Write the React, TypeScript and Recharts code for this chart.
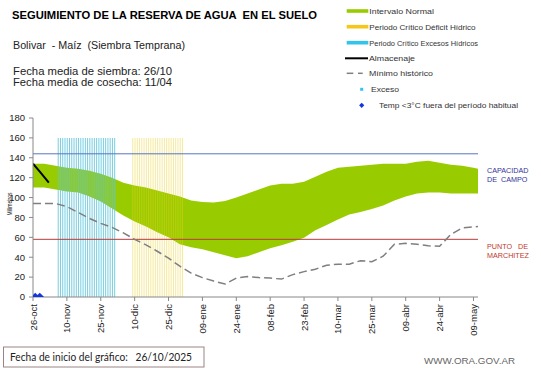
import React from 'react';
import { ComposedChart, Area, Bar, Line, Scatter, XAxis, YAxis, ReferenceLine } from 'recharts';

const FONT = '"Liberation Sans", Arial, sans-serif';

const tickDays = [0, 15, 30, 45, 60, 75, 90, 105, 120, 135, 150, 165, 180, 195];
const tickLabels = ['26-oct', '10-nov', '25-nov', '10-dic', '25-dic', '09-ene', '24-ene', '08-feb', '23-feb', '10-mar', '25-mar', '09-abr', '24-abr', '09-may'];
const yTicks = [0, 20, 40, 60, 80, 100, 120, 140, 160, 180];

const sampleDays = [0, 5, 10, 15, 20, 25, 30, 35, 40, 45, 50, 55, 60, 65, 70, 75, 80, 85, 90, 95, 100, 105, 110, 115, 120, 125, 130, 135, 140, 145, 150, 155, 160, 165, 170, 175, 180, 185, 190, 195, 197];
const normalHigh = [134, 134, 132, 130, 129, 127, 124, 120, 115, 112, 110, 107, 104, 101, 97, 95.5, 95, 96.5, 100, 104, 108, 112, 114, 114, 116, 121, 126, 130, 131, 132, 133, 134, 134, 134, 136, 137, 135, 133, 132, 130, 129];
const normalLow = [110, 110, 108, 106, 105, 101, 96, 89, 82, 76, 71, 65, 60, 53, 50, 48, 45, 42, 39, 41, 45, 49, 52, 55.5, 59.5, 67, 72.5, 78, 83, 85.5, 88.5, 92, 97, 101, 104, 105, 105, 104, 104, 104, 104];
const minHistorico = [94, 94, 94, 91, 85, 79, 74, 70, 64.5, 58, 52.5, 46, 39, 31, 24, 19.5, 16, 13, 19, 20.5, 19.5, 19, 18, 22.5, 25.5, 28, 32, 33, 33, 36.5, 35.5, 41, 53, 54, 53, 51.5, 51, 63, 69.5, 70.5, 71];

const almDays = [0, 3, 7];
const almValues = [134, 126, 115];

const excesosPeriod = [11, 36];
const deficitPeriod = [44, 66];
const periodTop = 160;

const frostDays = [1, 3];
const frostValues = [0, 0];

const capacidadCampo = 144;
const puntoMarchitez = 58;
const lastDay = 197;

type Row = { day: number; [k: string]: any };
const data: Row[] = [];
for (let d = 0; d <= lastDay; d++) {
  const row: Row = { day: d };
  if (d >= excesosPeriod[0] && d <= excesosPeriod[1]) row.excesos = periodTop;
  if (d >= deficitPeriod[0] && d <= deficitPeriod[1]) row.deficit = periodTop;
  data.push(row);
}
sampleDays.forEach((d, i) => {
  data[d].normal = [normalLow[i], normalHigh[i]];
  data[d].minimo = minHistorico[i];
});
almDays.forEach((d, i) => {
  data[d].alm = almValues[i];
});
const frostData = frostDays.map((d, i) => ({ day: d, v: frostValues[i] }));

const XTick = (props: any) => {
  const { x, y, payload } = props;
  const idx = tickDays.indexOf(payload.value);
  const ax = x + 3.5;
  const ay = y + 1;
  return (
    <text x={ax} y={ay} transform={`rotate(-90 ${ax} ${ay})`} textAnchor="end" fontSize={9.5} fill="#222" fontFamily={FONT}>
      {idx >= 0 ? tickLabels[idx] : ''}
    </text>
  );
};

const Diamond = (props: any) => {
  const { cx, cy } = props;
  const r = 4.3;
  return <polygon points={`${cx},${cy - r} ${cx + r},${cy} ${cx},${cy + r} ${cx - r},${cy}`} fill="#1535e0" />;
};

const legendRows = [
  { label: 'Intervalo Normal', kind: 'bar', color: '#99cc00', y: 11, x: 369.3, w: 64.7 },
  { label: 'Periodo Crítico Déficit Hídrico', kind: 'bar', color: '#f7c61a', y: 26.7, x: 369.3, w: 106.3 },
  { label: 'Periodo Crítico Excesos Hídricos', kind: 'bar', color: '#33c4ec', y: 42.7, x: 369.3, w: 108.7 },
  { label: 'Almacenaje', kind: 'line', color: '#000', y: 58.3, x: 369, w: 46 },
  { label: 'Mínimo histórico', kind: 'dash', color: '#808080', y: 73.3, x: 369, w: 64 },
  { label: 'Exceso', kind: 'square', color: '#33c4ec', y: 89.3, x: 371, w: 28 },
  { label: 'Temp <3°C fuera del período habitual', kind: 'diamond', color: '#1535e0', y: 105.3, x: 379, w: 139 },
];

export default function App() {
  return (
    <div style={{ position: 'fixed', left: 0, top: 0, width: 541, height: 368, background: '#fff', overflow: 'hidden' }}>
      <ComposedChart width={541} height={368} data={data} margin={{ top: 118, right: 63, bottom: 0, left: 0 }}>
        <XAxis
          type="number"
          dataKey="day"
          domain={[0, lastDay]}
          ticks={tickDays}
          interval={0}
          height={71}
          tick={<XTick />}
          tickSize={4}
          tickMargin={2}
          axisLine={{ stroke: '#888' }}
          tickLine={{ stroke: '#888' }}
          allowDataOverflow
        />
        <YAxis
          type="number"
          domain={[0, 180]}
          ticks={yTicks}
          width={33}
          tickSize={4}
          tickMargin={4}
          interval={0}
          axisLine={{ stroke: '#888' }}
          tickLine={{ stroke: '#888' }}
          tick={{ fontSize: 9.5, fill: '#222', fontFamily: FONT }}
          allowDataOverflow
        />
        <Area dataKey="normal" fill="#99cc00" fillOpacity={1} stroke="none" connectNulls isAnimationActive={false} type="linear" />
        <Bar dataKey="excesos" stackId="p" barSize={1} fill="#5ec6dc" fillOpacity={0.85} isAnimationActive={false} />
        <Bar dataKey="deficit" stackId="p" barSize={1} fill="#e8cf20" fillOpacity={0.45} isAnimationActive={false} />
        <ReferenceLine y={capacidadCampo} stroke="#5675c4" strokeWidth={1} />
        <ReferenceLine y={puntoMarchitez} stroke="#b83a3a" strokeWidth={1} />
        <Line dataKey="minimo" stroke="#7f7f7f" strokeWidth={1.5} strokeDasharray="8 4" dot={false} connectNulls isAnimationActive={false} type="linear" />
        <Line dataKey="alm" stroke="#000" strokeWidth={2} dot={false} connectNulls isAnimationActive={false} type="linear" />
        <Scatter data={frostData} dataKey="v" shape={<Diamond />} isAnimationActive={false} />
      </ComposedChart>

      <svg width={541} height={368} style={{ position: 'absolute', left: 0, top: 0, pointerEvents: 'none' }} fontFamily={FONT}>
        <text x={12} y={18.5} fontSize={10.5} fontWeight="bold" fill="#000" textLength={305} lengthAdjust="spacingAndGlyphs" style={{ whiteSpace: 'pre' }}>
          SEGUIMIENTO DE LA RESERVA DE AGUA  EN EL SUELO
        </text>
        <text x={13} y={48.5} fontSize={11} fill="#222" textLength={172} lengthAdjust="spacingAndGlyphs" style={{ whiteSpace: 'pre' }}>
          Bolivar  - Maíz  (Siembra Temprana)
        </text>
        <text x={13} y={74.5} fontSize={10} fill="#222" textLength={159} lengthAdjust="spacingAndGlyphs">
          Fecha media de siembra: 26/10
        </text>
        <text x={13} y={85.5} fontSize={10} fill="#222" textLength={159} lengthAdjust="spacingAndGlyphs">
          Fecha media de cosecha: 11/04
        </text>

        {legendRows.map((r) => (
          <g key={r.label}>
            {r.kind === 'bar' && <rect x={346.7} y={r.y - 1.8} width={21.6} height={3.6} fill={r.color} />}
            {r.kind === 'line' && <line x1={345} x2={368} y1={r.y} y2={r.y} stroke={r.color} strokeWidth={2} />}
            {r.kind === 'dash' && (
              <g stroke={r.color} strokeWidth={1.5}>
                <line x1={346.7} x2={353.3} y1={r.y} y2={r.y} />
                <line x1={358} x2={362.7} y1={r.y} y2={r.y} />
              </g>
            )}
            {r.kind === 'square' && <rect x={360.2} y={r.y - 1.5} width={3} height={3} fill={r.color} />}
            {r.kind === 'diamond' && (
              <polygon points={`361.7,${r.y - 2.6} 364.3,${r.y} 361.7,${r.y + 2.6} 359.1,${r.y}`} fill={r.color} />
            )}
            <text x={r.x} y={r.y + 2.8} fontSize={7.5} fill="#333" textLength={r.w} lengthAdjust="spacingAndGlyphs">
              {r.label}
            </text>
          </g>
        ))}

        <text x={487} y={173} fontSize={7.2} fill="#33339a">CAPACIDAD</text>
        <text x={487} y={181.5} fontSize={7.2} fill="#33339a" style={{ whiteSpace: 'pre' }}>DE  CAMPO</text>
        <text x={487} y={249} fontSize={7.2} fill="#c0392b" style={{ whiteSpace: 'pre' }}>PUNTO   DE</text>
        <text x={487} y={257.7} fontSize={7.2} fill="#c0392b">MARCHITEZ</text>

        <text x={12} y={204} transform="rotate(-90 12 204)" textAnchor="middle" fontSize={6.5} fill="#222" textLength={23} lengthAdjust="spacingAndGlyphs">
          Milímetros
        </text>

        <rect x={3.5} y={347} width={200.5} height={20} fill="#fff" stroke="#9a8585" strokeWidth={1} />
        <text x={10} y={360.7} fontSize={10.5} fill="#222" fontFamily='Lato, "Open Sans", sans-serif' textLength={182} lengthAdjust="spacingAndGlyphs" style={{ whiteSpace: 'pre' }}>
          Fecha de inicio del gráfico:   26/10/2025
        </text>
        <text x={424} y={364} fontSize={9.5} fill="#666" textLength={91} lengthAdjust="spacingAndGlyphs">
          WWW.ORA.GOV.AR
        </text>
      </svg>
    </div>
  );
}
